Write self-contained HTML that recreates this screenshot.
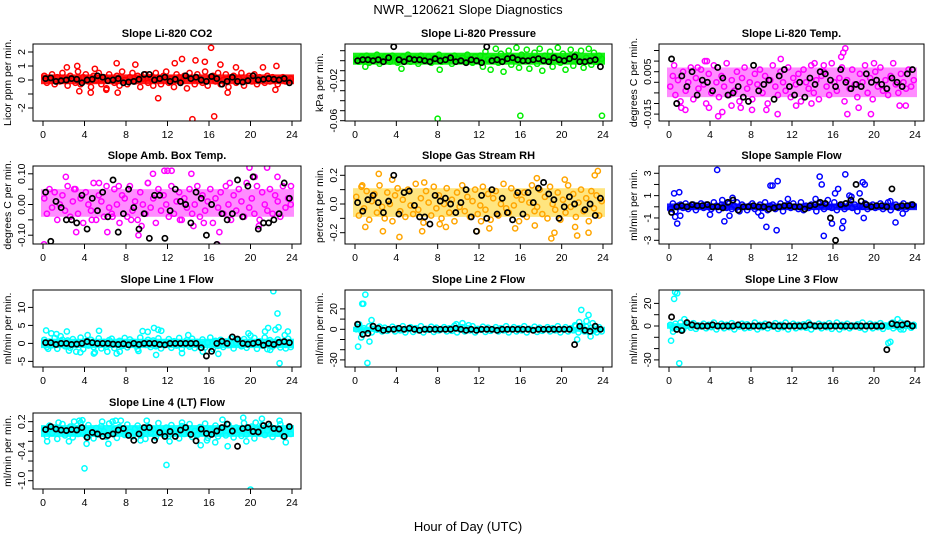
<!DOCTYPE html>
<html><head><meta charset="utf-8"><style>
html,body{margin:0;padding:0;background:#fff;}
svg{display:block;font-family:"Liberation Sans",Arial,sans-serif;}
</style></head><body>
<svg id="chart" width="936" height="540" viewBox="0 0 936 540">
<text x="468" y="14" text-anchor="middle" font-size="13">NWR_120621  Slope Diagnostics</text>
<text x="468" y="531" text-anchor="middle" font-size="13">Hour of Day (UTC)</text>
</svg>
<script>
// ---- data ----
const xTicks = [0,4,8,12,16,20,24];
const titles = ["Slope Li-820 CO2","Slope Li-820 Pressure","Slope Li-820 Temp.","Slope Amb. Box Temp.","Slope Gas Stream RH","Slope Sample Flow","Slope Line 1 Flow","Slope Line 2 Flow","Slope Line 3 Flow","Slope Line 4 (LT) Flow"];
const yTitles = ["Licor ppm per min.","kPa per min.","degrees C per min.","degrees C per min.","percent per min.","ml/min per min.","ml/min per min.","ml/min per min.","ml/min per min.","ml/min per min."];
const colors = ["#ff0000","#00ee00","#ff00ff","#ff00ff","#ffa500","#0000ff","#00ffff","#00ffff","#00ffff","#00ffff"];
const units = [1,0.001,0.001,0.01,0.01,0.1,1,1,1,0.01];
const unitsOut = [1,0.001,0.001,0.01,0.01,1,1,1,1,0.01];
const unitsBlack = [1,0.001,0.001,0.01,0.01,1,1,1,1,0.01];
const yTickVals = [[-2,-1,0,1,2],[0.01,0,-0.01,-0.02,-0.03,-0.04,-0.05,-0.06],[0.015,0.01,0.005,0,-0.005,-0.01,-0.015],[0.1,0.05,0,-0.05,-0.1],[0.2,0.1,0,-0.1,-0.2],[3,2,1,0,-1,-2,-3],[10,5,0,-5],[20,10,0,-10,-20,-30],[20,10,0,-10,-20,-30],[0.2,0,-0.2,-0.4,-0.6,-0.8,-1.0]];
const yTickLabels = [["2","1","0","-2"],["-0.02","-0.06"],["0.005","-0.015"],["0.10","0.00","-0.10"],["0.2","0.0","-0.2"],["3","1","-1","-3"],["10","5","0","-5"],["20","0","-30"],["20","0","-30"],["0.2","-0.4","-1.0"]];
const yTickLabelVals = [[2,1,0,-2],[-0.02,-0.06],[0.005,-0.015],[0.1,0,-0.1],[0.2,0,-0.2],[3,1,-1,-3],[10,5,0,-5],[20,0,-30],[20,0,-30],[0.2,-0.4,-1.0]];

const main0 = [0.3,-0.2,0.1,0.4,-0.3,0.2,-0.1,0.5,0.0,-0.4,0.3,0.1,-0.2,0.6,-0.3,0.2,0.4,-0.1,-0.5,0.3,0.0,0.5,-0.3,0.2,-0.6,0.4,0.1,-0.2,0.3,-0.4,0.6,0.0,-0.3,0.2,0.5,-0.1,0.3,-0.5,0.1,0.4,-0.2,0.2,-0.4,0.5,0.0,-0.3,0.3,0.6,-0.2,0.1,-0.5,0.4,0.2,-0.1,0.3,-0.6,0.5,0.0,-0.3,0.4,0.1,-0.2,0.6,-0.4,0.2,0.3,-0.1,0.5,-0.3,0.0,0.4,-0.5,0.2,0.3,-0.2,0.1,0.5,-0.4,0.0,0.3,-0.1,0.4,-0.3,0.2,0.1,-0.2,0.3,-0.1,0.2,0.0,-0.3,0.1,0.2,-0.1,0.0,0.1];
const outX0 = [2.3,3.3,4.6,5.0,7.1,7.2,8.9,11.1,12.7,13.4,14.4,14.7,15.6,16.2,16.5,17.1,17.8,18.6,21.2,22.4,22.5,3.5,6.1];
const outY0 = [0.9,1.0,-0.9,0.8,1.2,-0.9,1.1,-1.3,1.2,1.5,-2.8,1.4,1.3,2.3,-2.6,1.1,-0.9,0.9,0.9,-0.7,1.0,-0.8,-0.7];
const black0 = [0.1,0.15,-0.1,-0.05,0.0,0.1,0.05,-0.2,0.0,0.05,0.3,0.2,-0.05,0.0,0.1,-0.2,-0.15,-0.1,0.05,0.4,0.4,0.0,0.1,0.2,-0.1,0.05,-0.2,0.3,0.1,0.2,0.0,-0.1,0.25,0.1,-0.3,-0.1,0.2,-0.1,-0.15,-0.05,0.3,0.0,0.05,0.1,0.05,0.0,0.1,-0.2];

const main1 = [2,-1,4,0,5,-2,3,1,6,-3,2,4,0,-1,5,3,-2,1,4,0,6,-1,2,3,-3,5,1,0,4,-2,3,2,6,-1,0,4,1,-3,5,2,0,3,-1,6,1,-2,4,0,5,-6,9,1,-9,3,12,-2,7,-11,4,10,-4,2,13,-7,6,0,11,-8,3,8,-3,12,-10,5,1,9,-6,4,13,-2,7,-9,2,11,-5,6,0,10,-7,3,12,-4,8,-1,5,2];
const outX1 = [8.0,16.0,23.9,1.0,4.5,8.2];
const outY1 = [-58,-55,-55,-6,-8,-9];
const black1 = [0,1,1,0,1,-1,3,14,1,-1,2,1,1,0,-1,2,0,1,3,-1,0,-2,1,0,-2,14,0,1,-1,2,3,1,0,0,1,2,0,-1,3,1,0,2,4,-1,-1,0,1,-6];

const main2 = [-2,3,-6,1,-9,5,-4,0,7,-8,2,-3,6,-1,-10,4,-5,8,0,-7,3,-2,9,-6,1,-4,5,-9,2,7,-3,0,-8,4,-1,6,-5,3,-10,1,8,-2,-6,5,0,-4,7,-7,2,-1,4,-9,6,0,-3,8,-5,1,-8,3,5,-2,-6,9,0,-4,2,7,-9,1,-3,6,-1,-7,4,0,8,-5,2,-8,5,-2,7,-4,1,-6,3,9,-1,-5,4,0,-3,6,-2,1];
const outX2 = [0.5,1.2,1.6,2.8,3.5,3.9,4.8,5.2,6.1,7.0,8.1,9.5,10.6,10.9,13.9,14.2,16.8,17.0,17.2,17.4,19.7,20.0,22.5,23.1,3.7,12.4,15.1,18.5];
const outY2 = [8,-12,-13,7,10,-12,-16,-14,-11,-12,-13,-13,-15,11,-10,9,12,14,16,-15,-15,9,-11,-11,10,-11,8,-12];
const black2 = [11,-10,3,-2,5,-6,1,0,-4,7,2,-6,-5,-2,-7,-9,8,-4,-1,1,-8,3,6,-2,-6,0,-7,2,-1,5,4,1,-2,6,0,-3,-1,-2,4,0,1,-1,-3,2,0,-2,4,6];

const main3 = [2,-3,5,-1,4,-5,0,3,-2,6,-4,1,5,-3,2,-6,4,0,-2,7,-5,3,1,-4,6,-1,-3,5,0,-6,3,2,-4,6,-2,1,-5,4,0,-3,7,-1,2,-6,5,-2,3,0,-4,6,-3,1,4,-5,2,-1,5,-3,0,6,-4,3,-2,1,5,-6,2,-1,4,-3,6,0,-5,3,-2,5,1,-4,7,-1,2,-3,6,-5,4,0,-2,5,-3,3,1,-4,6,-1,2,0];
const outX3 = [0.1,2.2,3.2,4.7,5.4,6.2,6.7,7.3,8.5,9.2,10.1,10.6,11.7,12.0,12.4,13.2,14.3,14.5,15.5,16.8,17.0,18.0,19.9,20.4,20.8,21.6,22.6,23.9,3.0,9.5];
const outY3 = [-13,9,-9,-5,7,-9,-4,6,-5,-10,7,10,11,11,11,-5,10,-7,-6,-13,-9,7,12,9,-7,12,9,6,5,-7];
const black3 = [4,-12,1,-1,-5,-5,-6,3,-8,2,-2,4,-4,8,-9,-3,5,-1,-8,-3,-11,3,3,-11,-2,5,1,0,-6,4,2,-10,0,-13,-3,-5,-3,8,-4,6,9,-8,-6,-6,-5,-3,7,2];

const main4 = [5,-8,12,-3,9,-11,2,7,-6,13,-2,-10,8,0,-12,6,11,-5,3,-9,10,-1,-7,14,-4,4,-13,9,1,-8,12,-3,6,-10,0,11,-6,3,-12,8,-2,13,-5,5,-9,2,10,-7,-1,12,-4,7,-11,4,9,-8,0,14,-3,-6,11,-1,6,-12,3,8,-9,1,13,-5,-2,10,-7,5,-10,12,0,-4,8,-11,3,-6,13,-2,7,-9,1,10,-5,4,-12,9,-3,6,-8,2];
const outX4 = [0.7,1.0,2.3,2.7,3.6,4.3,6.5,6.7,8.8,11.8,13.0,15.5,17.4,17.6,19.0,19.3,20.3,21.3,21.5,22.6,23.2,23.5,8.2,12.2];
const outY4 = [13,-16,21,-19,17,-23,-19,15,-16,-19,-17,-17,-15,18,-24,-20,17,-16,-22,-20,20,23,-14,-12];
const black4 = [1,-5,3,6,1,-6,2,20,-7,8,9,-1,-9,-9,-14,6,2,4,0,-6,1,10,-9,-19,6,-10,10,-7,4,-6,-11,8,-7,8,1,11,15,7,3,-10,-2,5,0,-30,-4,0,-8,4];

const main5 = [-2,3,-4,1,2,-1,3,-2,0,2,-3,1,3,-1,2,0,-2,4,1,-3,2,0,-1,3,-2,1,4,-4,2,0,-3,1,3,-2,0,2,-1,4,-3,1,2,-2,0,3,-4,1,2,-1,3,0,-2,4,-3,1,-1,2,0,-4,3,1,-2,2,0,-1,4,-3,1,2,-2,0,3,-1,2,-4,1,0,3,-2,1,2,-1,0,3,-2,1,4,-3,0,2,-1,1,3,-2,0,2,1];
const outX5 = [0.5,0.6,0.8,1.0,1.1,4.7,4.0,5.2,5.4,5.9,6.2,8.7,9.0,9.5,9.9,10.1,10.5,10.6,11.6,14.3,14.7,14.9,15.1,15.5,15.9,16.2,16.5,16.9,17.0,17.2,17.6,17.8,18.6,18.9,19.1,21.6,22.1,22.8,19.0];
const outY5 = [1.2,-0.9,-1.5,1.3,-0.8,3.3,-0.7,0.6,-1.3,-0.8,0.8,-0.5,-0.8,-1.8,1.9,1.9,-2.1,2.3,0.7,0.7,2.7,2.0,-2.6,0.6,-1.5,1.2,1.6,-1.9,-1.3,2.9,1.0,0.9,1.2,2.2,2.0,0.5,-1.4,-0.6,-1.0];
const black5 = [-0.5,0,0.1,0,0.2,0.1,0.1,0.2,0,0,-0.1,0.4,0.6,-0.3,0,0,0.1,0,0,-0.2,-0.1,0,0.1,0.1,0,0,-0.2,0.1,0.2,0.4,0.3,-1.0,-3.0,0.2,0.3,0.6,2.0,0.5,0.2,0,0.1,0.1,0,1.6,0,0.1,0.1,0.2];

const main6 = [1,-1,0.5,-0.5,1.5,-1.5,0,1,-0.8,0.8,-1.2,1.2,0.3,-0.3,1.6,-1.6,0.6,-0.6,1,-1,0.2,1.4,-1.4,0.4,-0.9,0.9,1.3,-1.3,0,0.7,-0.7,1.5,-1.1,1.1,0.5,-0.5,-1.6,1.6,0.1,-0.4,1,-1,0.8,-0.8,1.4,-1.4,0.3,-0.2,1.2,-1.2,0.6,-0.6,1.5,-1.5,0,0.9,-0.9,1.3,-1.3,0.4,-0.4,1.1,-1.1,0.2,1.6,-1.6,0.7,-0.7,1,-1,0.5,-0.5,1.4,-1.4,0.1,0.8,-0.8,1.2,-1.2,0.3,-0.3,1.5,-1.5,0.6,-0.6,1.6,-1.6,0.9,-0.9,0,1.1,-1.1,0.4,-0.4,1.3,-1];
const outX6 = [0.3,0.5,0.8,1.3,2.3,2.5,3.2,4.3,4.9,5.0,6.2,7.1,7.4,9.2,9.6,10.1,10.7,10.9,11.1,11.4,13.4,14.0,15.4,16.9,19.8,20.0,21.4,21.7,21.9,22.2,22.4,22.6,22.7,22.8,23.3,23.4,23.6,22.1,1.7,3.6,5.4];
const outY6 = [3.6,-1.5,2.8,2.6,3.3,-2.0,-2.3,2.3,-2.8,-2.5,-2.3,-2.8,-2.3,-2.1,3.4,3.2,4.3,-3.2,3.8,3.5,-2.7,2.3,-2.3,-2.9,2.8,2.2,3.3,4.3,-1.8,14.5,3.8,8.3,4.5,-5.5,2.3,-1.4,3.3,-0.5,2.0,-2.5,3.5];
const black6 = [0.2,0.2,-0.3,0,0,-0.3,-0.2,0,0.5,0.2,0,0,0,-0.2,-0.3,-0.1,-0.4,0,-0.3,0,0,0,-0.3,-0.4,0,0,0,0,0,0,-1.2,-3.5,-2.2,0,0.6,0,1.8,1.2,0,-0.2,0,0.3,-0.5,0,-0.3,0.3,0.5,0.2];

const main7 = [0,2,-2,1,-1,3,-3,0.5,-0.5,2.5,-2,1.5,-1.5,0,2.5,-2,1,-1,3,-3,0,2,-2.5,1,-1,3,-3,0.5,-0.5,2.5,-2.5,1.5,-1,0,2,-2,1,-1.5,3.5,-3,0,2,-2,1,-1,3,-3,0.5,-0.5,2.5,-2.5,1.5,-1.5,0,2,-2,1,-1,3,-3,0,2,-2,1,-1,3,-3,0.5,-0.5,2.5,-2.5,1.5,-1.5,0,2,-2,1,-1,3,-3,0,2,-2,1,-1,3,-3,0.5,-0.5,2.5,-2.5,1.5,-1.5,0,2,-2];
const outX7 = [0.3,0.4,0.6,0.7,0.8,1.0,1.2,1.4,1.6,9.8,10.4,11.0,21.3,21.5,21.7,21.9,22.0,22.2,22.4,22.6,22.8,23.0,23.4];
const outY7 = [-17,5,-8,25,25,34,-33,-12,9,5,6,4,4,-10,7,19,3,-2,8,14,-7,6,-3];
const black7 = [5,-5,-4,3,1,-1,0,0,1,0,1,0,-1,0,0,0,0,0,0,1,0,-1,0,-1,0,0,0,-1,0,0,0,0,0,0,-1,0,0,0,0,0,0,0,-15,3,-1,-2,3,0];

const main8 = [1,-2,2,-1,3,-3,0,1.5,-1.5,2.5,-2.5,0.5,-0.5,2,-2,1,-1,3,-3,0,2,-2,1,-1,2.5,-3,0.5,-0.5,2,-2,1.5,-1.5,0,3,-3,1,-1,2,-2,0.5,-0.5,2.5,-2.5,1,-1,3,-3,0,2,-2,1,-1,1.5,-1.5,3,-3,0.5,-0.5,2,-2,1,-1,2.5,-2.5,0,3,-3,1,-1,2,-2,0.5,-0.5,1.5,-1.5,3,-3,0,2,-2,1,-1,2.5,-2.5,0.5,-0.5,2,-2,1,-1,3,-3,0,1.5,-1.5,1];
const outX8 = [0.2,0.4,0.5,0.6,0.8,1.0,1.2,1.5,21.4,21.6,21.8,22.3,22.6,23.0];
const outY8 = [-13,-5,24,30,29,-33,-3,6,-15,-14,3,6,-3,2];
const black8 = [8,-3,-4,3,1,0,0,0,1,0,0,0,0,1,0,0,0,0,0,1,0,0,0,0,0,0,0,1,0,0,0,0,0,0,0,0,0,0,0,0,0,0,-21,2,1,1,2,0];

const main9 = [5,-10,12,-3,8,-15,2,15,-8,0,10,-12,6,-5,18,-2,-9,13,3,-14,7,-6,11,0,-11,16,-4,4,-13,9,1,-7,14,-1,-10,6,12,-8,3,-15,10,-2,5,-12,17,0,-6,8,-9,13,-3,2,-14,11,-5,7,15,-11,1,-7,9,-2,16,-13,4,-4,12,-10,0,6,-8,14,-1,-12,8,3,-9,17,-6,1,10,-14,5,-3,13,-7,2,11,-11,6,-4,15,-9,0,8,-5];
const outX9 = [0.4,1.5,2.5,3.0,3.5,4.0,4.2,5.7,6.3,7.0,7.5,9.4,10.0,11.9,12.2,13.4,15.2,15.8,16.6,17.3,17.8,19.3,19.6,20.0,20.5,21.1,22.8,23.4,3.8,6.7];
const outY9 = [-20,18,-20,20,22,-75,-25,20,-25,22,22,-18,22,-68,-20,18,-28,-18,-22,24,-30,28,-20,-118,18,26,22,-22,23,20];
const black9 = [4,10,5,3,2,4,3,8,-12,-2,-5,-10,-8,-5,3,6,-8,-18,-5,8,8,-18,-2,-10,0,-10,3,8,-6,-19,5,-4,-6,1,8,15,1,-30,6,8,0,-1,12,15,6,5,-10,10];

const mains = [main0,main1,main2,main3,main4,main5,main6,main7,main8,main9];
const outXs = [outX0,outX1,outX2,outX3,outX4,outX5,outX6,outX7,outX8,outX9];
const outYs = [outY0,outY1,outY2,outY3,outY4,outY5,outY6,outY7,outY8,outY9];
const blacks = [black0,black1,black2,black3,black4,black5,black6,black7,black8,black9];

// ---- layout / style (not data) ----
const colL = [33,345,659], colR = [301,612,924];
const rowT = [44,166,290,413], rowB = [121,244,367,489];
const yZero = [80,60.7,82.3,204.5,204,206.8,343.4,329.3,326,431.5];
const yPx = [14,1000,2120,307,143.5,11.17,3.6,1.02,1.13,49.2];
const bandOpacity = [0.9,0.9,0.45,0.45,0.5,0.9,0.9,0.9,0.9,0.9];
const bandColor = ["#ff0000","#00ee00","#ff00ff","#ff00ff","#ffcc00","#0000ff","#00ffff","#00ffff","#00ffff","#00ffff"];

const NS = "http://www.w3.org/2000/svg";
const svg = document.getElementById("chart");
function mk(tag, attrs, parent){const e=document.createElementNS(NS,tag);for(const k in attrs)e.setAttribute(k,attrs[k]);(parent||svg).appendChild(e);return e;}
function quant(arr, q){const s=arr.slice().sort((a,b)=>a-b);return s[Math.min(s.length-1,Math.max(0,Math.round(q*(s.length-1))))];}

titles.forEach((title, p) => {
  const c = p % 3, r = Math.floor(p / 3);
  const L = colL[c], R = colR[c], T = rowT[r], B = rowB[r];
  const x0 = L + 10, x1 = R - 9;
  const xS = h => x0 + (h / 24) * (x1 - x0);
  const yS = v => yZero[p] - v * yPx[p];
  const slug = title.toLowerCase().replace(/[^a-z0-9]+/g,'-').replace(/^-|-$/g,'');
  const g = mk("g", {});
  
  
  const cp = mk("clipPath", {id: "cp" + p}, g);
  mk("rect", {x: L, y: T, width: R - L, height: B - T}, cp);

  const t = mk("text", {x: (L + R) / 2, y: T - 7, "text-anchor": "middle", "font-size": 11, "font-weight": "bold"}, g);
  t.textContent = title;
  
  

  const yt = mk("text", {transform: `translate(${L - 22},${(T + B) / 2}) rotate(-90)`, "text-anchor": "middle", "font-size": 10.5}, g);
  yt.textContent = yTitles[p];
  
  

  const pts = mk("g", {"clip-path": `url(#cp${p})`, fill: "none", "stroke-width": 1.5}, g);
  
  

  // density band from the main series' central quantiles
  const vals = mains[p].map(v => v * units[p]);
  const lo = quant(vals, 0.12), hi = quant(vals, 0.88);
  const band = mk("rect", {x: xS(0) - 2, y: yS(hi), width: xS(24) - xS(0) + 4, height: yS(lo) - yS(hi), fill: bandColor[p], "fill-opacity": bandOpacity[p], stroke: "none"}, pts);
  
  

  const n = mains[p].length;
  mains[p].forEach((v, i) => {
    const ci = mk("circle", {cx: xS((i + 0.5) * 24 / n), cy: yS(v * units[p]), r: 2.6, stroke: colors[p]}, pts);
    
    
  });
  outXs[p].forEach((h, i) => {
    const ci = mk("circle", {cx: xS(h), cy: yS(outYs[p][i] * unitsOut[p]), r: 2.6, stroke: colors[p]}, pts);
    
    
  });
  const nb = blacks[p].length;
  blacks[p].forEach((v, i) => {
    const ci = mk("circle", {cx: xS((i + 0.5) * 24 / nb), cy: yS(v * unitsBlack[p]), r: 2.6, stroke: "#000", "stroke-width": 1.7}, pts);
    
    
  });

  const box = mk("rect", {x: L, y: T, width: R - L, height: B - T, fill: "none", stroke: "#000", "stroke-width": 1}, g);
  
  

  const xa = mk("g", {stroke: "#000", "stroke-width": 1}, g);
  
  
  xTicks.forEach(h => {
    mk("line", {x1: xS(h), x2: xS(h), y1: B, y2: B + 5}, xa);
    const tl = mk("text", {x: xS(h), y: B + 17, "text-anchor": "middle", "font-size": 10.5, stroke: "none"}, xa);
    tl.textContent = h;
    
    
  });

  const ya = mk("g", {stroke: "#000", "stroke-width": 1}, g);
  
  
  yTickVals[p].forEach(v => { mk("line", {x1: L - 5, x2: L, y1: yS(v), y2: yS(v)}, ya); });
  yTickLabelVals[p].forEach((v, i) => {
    const tl = mk("text", {transform: `translate(${L - 8},${yS(v)}) rotate(-90)`, "text-anchor": "middle", "font-size": 10.5, stroke: "none"}, ya);
    tl.textContent = yTickLabels[p][i];
    
    
  });
});
</script>
</body></html>
